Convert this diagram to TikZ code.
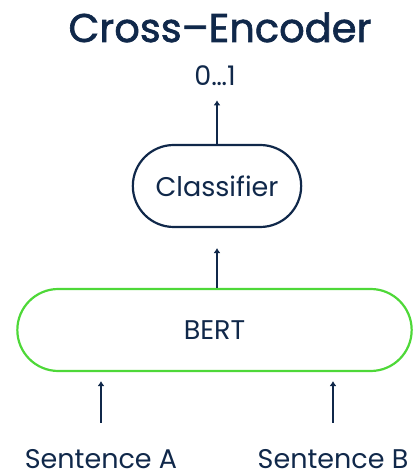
\documentclass[tikz,border=0pt]{standalone}
\usepackage{xcolor}
\usepackage{fontspec}
\setmainfont{Poppins}
\newfontfamily\titlefont[FakeBold=1.6]{Poppins}
\usepackage{tikz}
\usetikzlibrary{positioning,arrows.meta,shapes}
\definecolor{navy}{HTML}{10284A}
\definecolor{bertgreen}{HTML}{4ED838}
\tikzset{pill/.style = {rounded rectangle,draw = navy,line width = 2.2pt,
text = navy,font = \fontsize{27}{31}\selectfont},
lbl/.style = {text = navy,inner sep = 0pt,anchor = base},
up/.style = {-{Latex[length=5pt,width=7pt]},draw = navy,line width = 2.2pt}}

\begin{document}
\begin{tikzpicture}[x = 1pt, y = 1pt]
\useasboundingbox (0,0) rectangle (414,476);
\node[lbl,font = \titlefont\fontsize{40}{44}\selectfont] (Title) at (220,434)
{Cross–Encoder};
\node[lbl,font = \fontsize{27}{30}\selectfont] (Out) at (215,390) {0…1};
\node[pill,minimum width = 175pt,minimum height = 82pt] (Cls) at (217,290)
{Classifier};
\node[pill,draw = bertgreen,minimum width = 401pt,minimum height = 82pt]
(Bert) at (214.5,146) {BERT};
\node[lbl,font = \fontsize{27}{30}\selectfont] (SenA) at (101,8) {Sentence A};
\node[lbl,font = \fontsize{27}{30}\selectfont] (SenB) at (333,8) {Sentence B};
\draw[up,shorten >= 14pt] (Cls.north) to (Cls.north |- Out.south);
\draw[up,shorten >= 20pt] (Bert.north -| Cls) to (Cls.south);
\draw[up,shorten <= 45pt,shorten >= 9pt] (SenA.base) to (SenA |- Bert.south);
\draw[up,shorten <= 45pt,shorten >= 9pt] (SenB.base) to (SenB |- Bert.south);
\end{tikzpicture}
\end{document}
